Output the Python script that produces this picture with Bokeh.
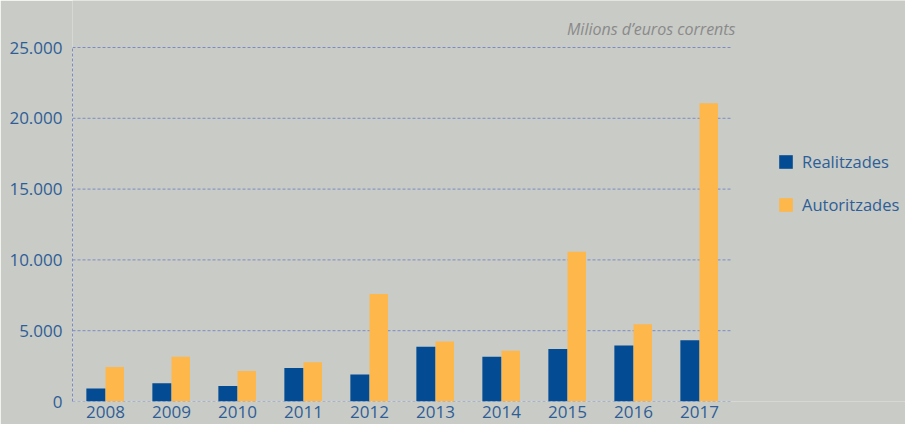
from bokeh.plotting import figure
from bokeh.models import Range1d, FixedTicker, Legend, LegendItem, Label
from bokeh.embed import file_html
from bokeh.resources import INLINE

years = ["2008", "2009", "2010", "2011", "2012", "2013", "2014", "2015", "2016", "2017"]
realitzades = [920, 1290, 1100, 2370, 1910, 3870, 3160, 3710, 3960, 4330]
autoritzades = [2440, 3160, 2160, 2780, 7600, 4230, 3590, 10570, 5460, 21060]
y_ticks = [0, 5000, 10000, 15000, 20000, 25000]
y_tick_labels = ["0", "5.000", "10.000", "15.000", "20.000", "25.000"]
subtitle = "Milions d\u2019euros corrents"
series_names = ["Realitzades", "Autoritzades"]

BG = "#c9cbc6"
NAVY = "#034b93"
ORANGE = "#fdb74a"
TXT = "#2e5e97"
GRID = "#7c8cc2"
FONT = "Open Sans"

W, H = 905, 424
LEFT, BOTTOM = 72, 23
CAT_PX = 66.0                      # pixel width of one year slot
PLOT_TOP_PX = 47                   # pixel row of the 25.000 gridline
frame_w = W - LEFT
frame_h = H - BOTTOM
x_start = -0.5
x_end = x_start + frame_w / CAT_PX  # extra room on the right holds the legend
y_max = y_ticks[-1]
y_end = y_max * frame_h / (frame_h - PLOT_TOP_PX)  # room above for the subtitle

idx = list(range(len(years)))
x_last = len(years) - 0.5

p = figure(width=W, height=H, output_backend="svg", toolbar_location=None, title=None,
           x_range=Range1d(x_start, x_end), y_range=Range1d(0, y_end),
           min_border_left=LEFT, min_border_right=0, min_border_top=0,
           min_border_bottom=BOTTOM)
p.background_fill_color = BG
p.border_fill_color = BG
p.outline_line_color = None

# dashed horizontal gridlines only across the year slots
p.segment(x0=[x_start] * len(y_ticks), x1=[x_last] * len(y_ticks), y0=y_ticks, y1=y_ticks,
          line_color=GRID, line_dash="3 2", line_width=1)

src = dict(x_r=[i - 0.145 for i in idx], x_a=[i + 0.14 for i in idx],
           r=realitzades, a=autoritzades)
r1 = p.vbar(x="x_r", top="r", width=0.29, source=src, fill_color=NAVY, line_color=None)
r2 = p.vbar(x="x_a", top="a", width=0.28, source=src, fill_color=ORANGE, line_color=None)

p.xgrid.grid_line_color = None
p.ygrid.grid_line_color = None

p.yaxis.ticker = FixedTicker(ticks=y_ticks)
p.yaxis.bounds = (0, y_max)
p.yaxis.major_label_overrides = {t: l for t, l in zip(y_ticks, y_tick_labels)}
p.yaxis.axis_line_color = GRID
p.yaxis.axis_line_dash = "3 2"
p.yaxis.major_tick_line_color = None
p.yaxis.minor_tick_line_color = None
p.yaxis.major_tick_out = 0
p.yaxis.major_tick_in = 0
p.yaxis.major_label_standoff = 10
p.yaxis.major_label_text_color = TXT
p.yaxis.major_label_text_font = FONT
p.yaxis.major_label_text_font_size = "17px"

p.xaxis.ticker = FixedTicker(ticks=idx)
p.xaxis.major_label_overrides = {i: y for i, y in zip(idx, years)}
p.xaxis.axis_line_color = None
p.xaxis.major_tick_line_color = None
p.xaxis.minor_tick_line_color = None
p.xaxis.major_tick_out = 0
p.xaxis.major_tick_in = 0
p.xaxis.major_label_standoff = 4
p.xaxis.major_label_text_color = TXT
p.xaxis.major_label_text_font = FONT
p.xaxis.major_label_text_font_size = "17px"

p.add_layout(Label(x=735 - LEFT, y=frame_h - 28, x_units="screen", y_units="screen",
                   text=subtitle, text_align="right", text_baseline="alphabetic",
                   text_font=FONT, text_font_style="italic", text_font_size="16px",
                   text_color="#8a8a8a"))

legend = Legend(items=[LegendItem(label=series_names[0], renderers=[r1]),
                       LegendItem(label=series_names[1], renderers=[r2])],
                location=(705, 185), orientation="vertical",
                padding=0, margin=0, spacing=20, glyph_width=17, glyph_height=17,
                label_height=17, label_standoff=8,
                label_text_font=FONT, label_text_font_size="16.5px", label_text_color=TXT,
                border_line_color=None, background_fill_alpha=0)
p.add_layout(legend, "center")

open("out.html", "w").write(file_html(p, INLINE))
